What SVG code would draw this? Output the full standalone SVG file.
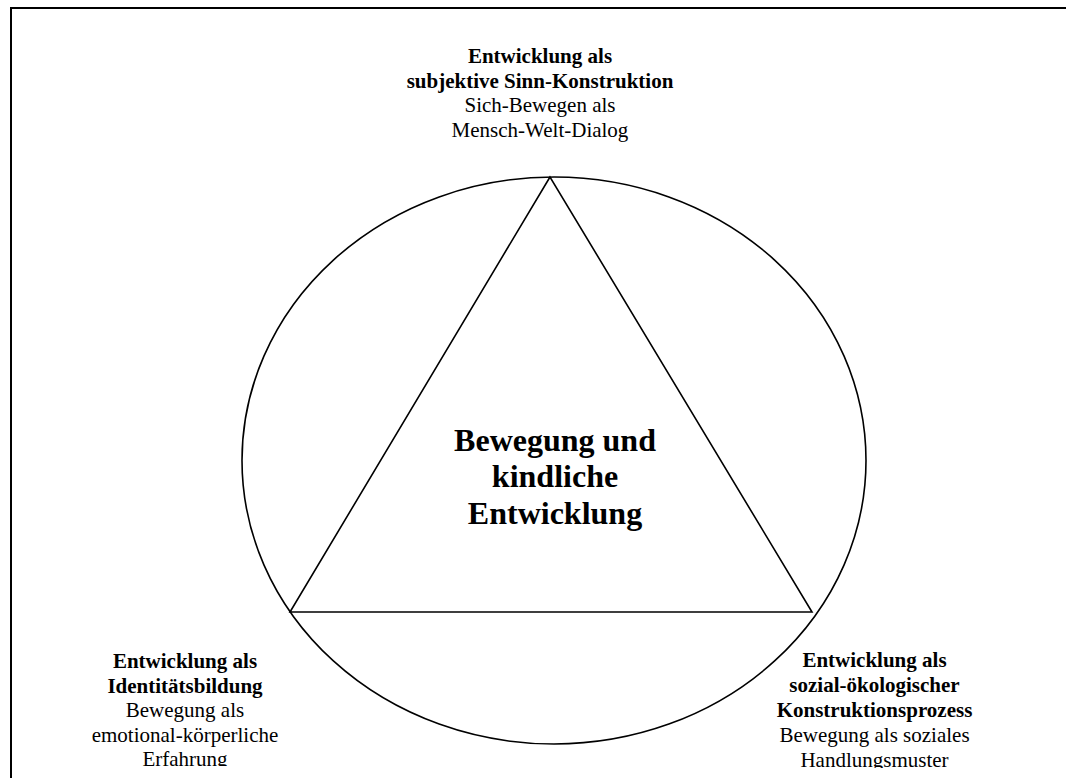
<svg xmlns="http://www.w3.org/2000/svg" width="1066" height="778" viewBox="0 0 1066 778">
  <style>
    .frame { fill: none; stroke: #000; stroke-width: 2; }
    .shape { fill: none; stroke: #000; stroke-width: 1.6; }
    text { font-family: "Liberation Serif", "Times New Roman", serif; fill: #000; text-anchor: middle; }
    .label { font-size: 21px; }
    .b { font-weight: bold; }
    .core { font-size: 32px; font-weight: bold; }
  </style>
  <defs>
    <clipPath id="clipLeft"><rect x="0" y="600" width="400" height="166"/></clipPath>
    <clipPath id="clipRight"><rect x="700" y="600" width="366" height="168"/></clipPath>
  </defs>

  <rect width="1066" height="778" fill="#fff"/>
  <!-- outer frame (runs off the right and bottom edges) -->
  <rect class="frame" x="11" y="8" width="1080" height="800"/>

  <g id="connectors">
    <ellipse class="shape" cx="554" cy="460.5" rx="312" ry="283.5"/>
    <polygon class="shape" points="550,177 290,612 812,612"/>
  </g>

  <g id="node-center">
    <text class="core" x="555" y="451">Bewegung und</text>
    <text class="core" x="555" y="487">kindliche</text>
    <text class="core" x="555" y="524">Entwicklung</text>
  </g>

  <g id="node-top" class="label">
    <text class="b" x="540" y="63">Entwicklung als</text>
    <text class="b" x="540" y="87.5">subjektive Sinn-Konstruktion</text>
    <text x="540" y="112">Sich-Bewegen als</text>
    <text x="540" y="136.7">Mensch-Welt-Dialog</text>
  </g>

  <g id="node-left" class="label" clip-path="url(#clipLeft)">
    <text class="b" x="185" y="668">Entwicklung als</text>
    <text class="b" x="185" y="692.5">Identitätsbildung</text>
    <text x="185" y="717">Bewegung als</text>
    <text x="185" y="741.5">emotional-körperliche</text>
    <text x="185" y="766">Erfahrung</text>
  </g>

  <g id="node-right" class="label" clip-path="url(#clipRight)">
    <text class="b" x="874.5" y="667">Entwicklung als</text>
    <text class="b" x="874.5" y="692">sozial-ökologischer</text>
    <text class="b" x="874.5" y="716.5">Konstruktionsprozess</text>
    <text x="874.5" y="741.5">Bewegung als soziales</text>
    <text x="874.5" y="766.5">Handlungsmuster</text>
  </g>
</svg>
